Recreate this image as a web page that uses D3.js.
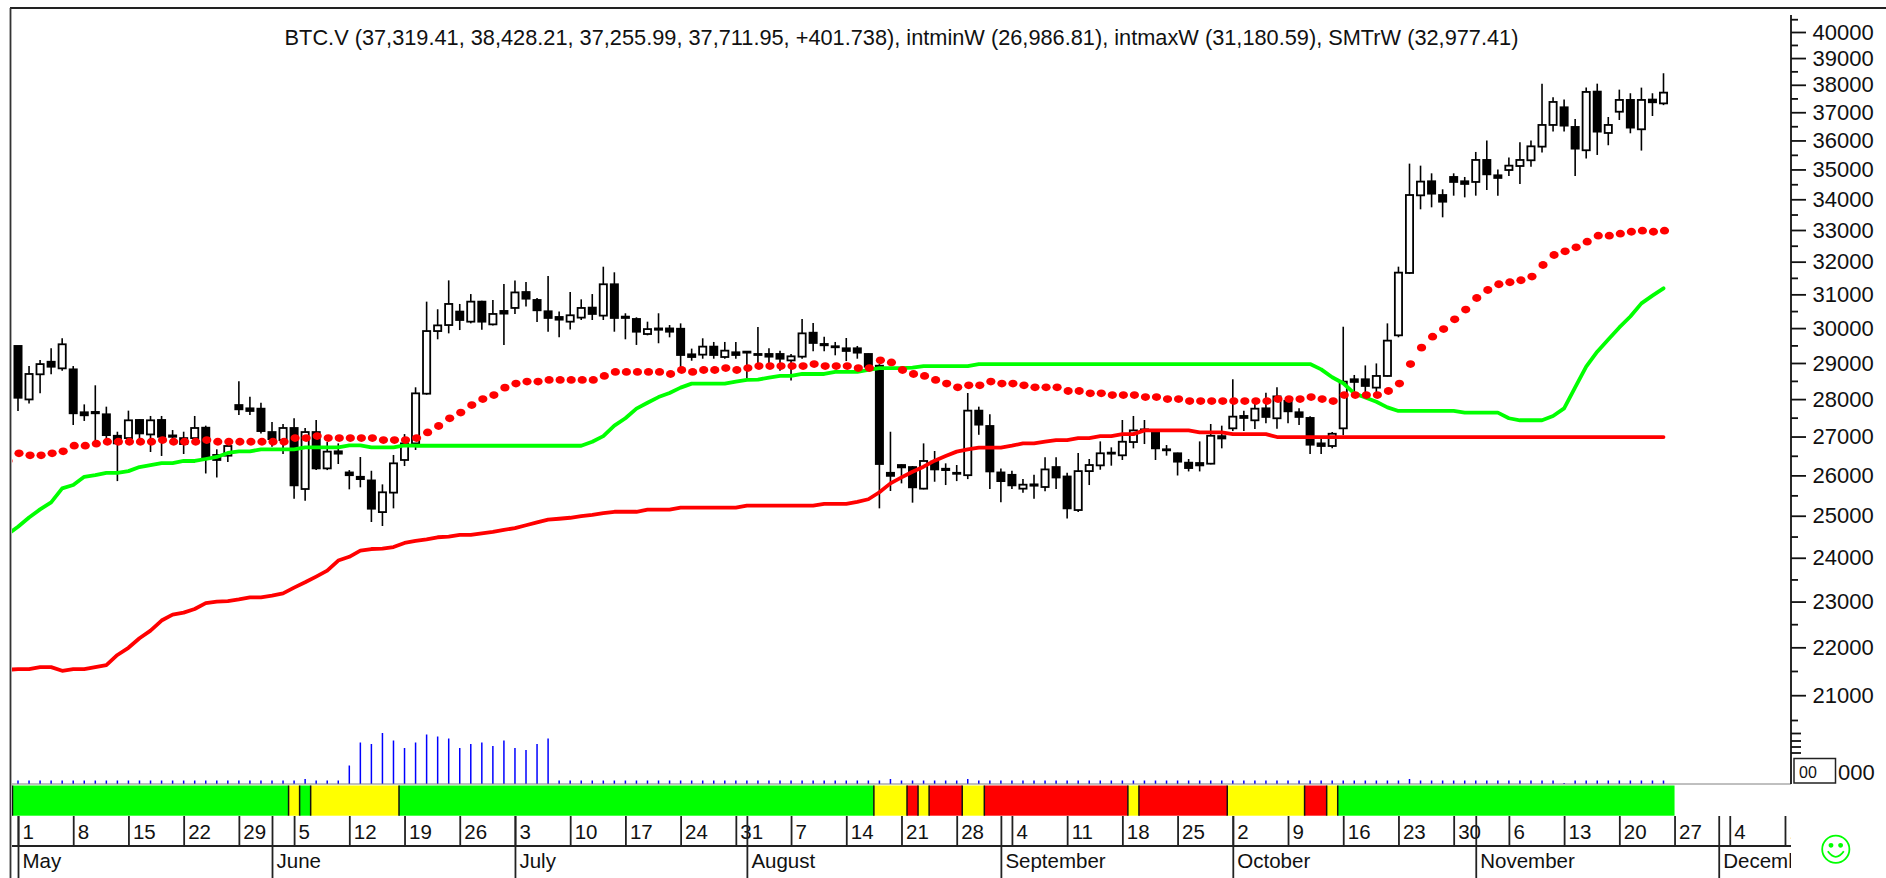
<!DOCTYPE html>
<html>
<head>
  <meta charset="utf-8">
  <title>BTC.V</title>
  <script src="https://d3js.org/d3.v7.min.js"></script>
  <style>
    html, body { margin: 0; padding: 0; background: #fff; }
    svg { display: block; font-family: "Liberation Sans", Arial, sans-serif; }
    .price-axis text, .osc-axis text { font-size: 22px; fill: #111; }
    .price-axis line, .osc-axis line, .price-axis path, .osc-axis path { stroke: #111; stroke-width: 1.8; }
    .week-axis line, .month-axis line { stroke: #222; stroke-width: 1.8; }
    .week-axis text, .month-axis text { font-size: 20.5px; fill: #111; text-anchor: start; }
  </style>
</head>
<body>
<svg id="chart" width="1886" height="878"></svg>
<script>
// candles, one per weekday from May 1 on
const opens = [
  29484,27991,28683,29035,28849,28821,27644,27653,27590,27020,
  26959,27438,27055,27438,27029,26959,26959,27233,26521,26503,
  27839,27750,27741,27118,26907,27225,25658,27118,26177,26615,
  26074,25964,25873,25089,25568,26392,26821,28148,29914,30089,
  30485,30188,30781,30109,30504,30593,31070,30831,30494,30326,
  30188,30307,30603,30366,31305,30336,30267,29828,29990,29990,
  29981,29245,29236,29465,29169,29303,29322,29255,29255,29255,
  29073,29179,29866,29541,29475,29417,29417,29255,28923,26065,
  26263,26211,25667,26349,26168,26065,26005,27688,27278,26074,
  26014,25667,25774,25708,26211,25972,25139,26108,26254,26581,
  26512,26856,27189,27118,26667,26564,26323,26314,26297,27011,
  27216,27545,27429,27750,27483,27955,27644,27492,26821,26753,
  27216,28545,28545,28314,28637,29790,31651,34130,34600,34141,
  34745,34600,34577,35324,34801,34980,35117,35313,35784,36546,
  37178,36475,35658,37749,36262,37019,37445,36392,37458,37319.41];
const highs = [
  29484,28914,29083,29417,29704,28914,27857,28378,27795,27127,
  27688,27460,27545,27545,27171,27127,27545,27287,26667,26778,
  28489,28065,27902,27385,27331,27483,27225,27438,26856,26821,
  26134,26469,26117,25774,26521,27064,28323,30781,30554,31424,
  30712,31009,30810,30831,31315,31417,31376,30890,31559,30485,
  31070,30850,31009,31844,31671,30435,30316,30188,30435,30089,
  30138,29408,29704,29599,29599,29599,29341,30030,29417,29350,
  29255,30267,30148,29752,29599,29713,29484,29270,28968,27126,
  26280,26237,26821,26624,26306,26263,28166,27795,27590,26177,
  26117,25906,26014,26460,26460,26065,26572,26417,26873,26718,
  27438,27545,27438,27171,26778,26581,26417,26873,27331,27287,
  28545,27688,27991,28175,28323,28046,27750,27536,26950,27118,
  30040,28665,28932,28988,30138,31845,35198,35129,34868,34331,
  34868,34745,35600,36002,35002,35404,35933,36002,38042,37543,
  37458,36759,37896,38042,36830,37822,37689,37896,37689,38428.21];
const lows = [
  27679,27884,28157,28683,28785,27305,27412,26890,26950,25856,
  26778,26950,26598,26495,26907,26546,26821,26048,25947,26340,
  27572,27572,27082,26735,26546,25418,25370,26134,26134,26289,
  25650,25700,24848,24752,25180,26237,26650,28120,29675,29847,
  29943,30138,29952,30079,29513,30415,30633,30178,29895,29732,
  29962,30237,30237,30237,29895,29675,29513,29790,29561,29732,
  28803,29064,29121,29121,29121,29121,28581,28895,28895,28785,
  28508,29121,29331,29331,29217,29054,29121,28870,25180,25609,
  25799,25320,25650,25840,25757,25856,25906,27046,25658,25328,
  25658,25568,25418,25600,25658,24935,25089,25757,26143,26246,
  26392,26692,26804,26392,26503,25997,26100,26100,26280,26692,
  27144,27144,27198,27349,27207,27349,27305,26546,26546,26692,
  27037,28157,28065,28065,28620,29733,31620,33670,33735,33409,
  34119,34063,34119,34309,34119,34779,34510,35094,35577,36310,
  36310,34779,35370,35496,35832,36723,36251,35647,36866,37255.99];
const closes = [
  28037,28692,28969,28895,29532,27617,27563,27617,27037,26821,
  27429,27082,27429,26993,26993,26804,27225,26452,26392,26753,
  27724,27679,27144,26933,27225,25749,27118,26177,26607,26555,
  26005,25906,25172,25576,26306,26821,28157,29914,30079,30712,
  30237,30781,30188,30415,30425,31058,30870,30524,30297,30247,
  30376,30593,30415,31305,30297,30297,29895,29971,29952,29895,
  29226,29169,29465,29226,29350,29226,29293,29226,29179,29121,
  29188,29847,29570,29503,29446,29341,29293,28895,26289,25988,
  26203,25700,26366,26151,26134,26040,27688,27314,26100,25856,
  25749,25766,25741,26151,25947,25180,26108,26263,26564,26555,
  26864,27162,27153,26692,26641,26349,26186,26254,27020,26950,
  27527,27492,27741,27519,28074,27670,27519,26787,26753,27073,
  28480,28471,28360,28637,29637,31661,34141,34589,34186,33920,
  34577,34510,35324,34834,34712,35129,35324,35795,36546,37372,
  36522,35715,37737,36310,36546,37445,36452,37445,37360,37711.95];

// indicators start one bar before the first candle (clipped by the frame)
const intminW = [21525,
  21539,21539,21580,21580,21504,21539,21539,21580,21622,21837,
  21990,22194,22361,22580,22711,22755,22835,22966,23000,23009,
  23048,23093,23093,23131,23184,23314,23435,23565,23702,23935,
  24022,24165,24205,24213,24252,24348,24395,24435,24483,24499,
  24538,24538,24578,24610,24660,24700,24770,24840,24904,24927,
  24951,24991,25023,25064,25097,25097,25097,25147,25147,25147,
  25196,25196,25196,25196,25196,25196,25246,25246,25246,25246,
  25246,25246,25246,25288,25288,25288,25337,25404,25577,25799,
  25948,26091,26220,26375,26495,26607,26667,26710,26710,26710,
  26761,26821,26821,26864,26907,26907,26959,26959,27011,27011,
  27064,27064,27162,27162,27162,27162,27162,27109,27109,27109,
  27064,27064,27064,27064,26987,26987,26987,26987,26987,26987,
  26987,26987,26987,26987,26987,26987,26987,26987,26987,26987,
  26987,26987,26987,26987,26987,26987,26987,26987,26987,26987,
  26987,26987,26987,26987,26987,26987,26987,26987,26987,26986.81];
const intmaxW = [24538,
  24736,24959,25155,25328,25675,25757,25964,26005,26065,26065,
  26108,26211,26263,26314,26314,26366,26366,26417,26469,26572,
  26615,26615,26667,26667,26667,26667,26718,26718,26718,26718,
  26770,26770,26718,26718,26718,26770,26760,26760,26760,26760,
  26760,26760,26760,26760,26760,26760,26760,26760,26760,26760,
  26760,26760,26864,27011,27287,27484,27742,27902,28055,28166,
  28314,28425,28425,28425,28425,28480,28526,28535,28591,28637,
  28637,28692,28692,28692,28748,28748,28748,28803,28858,28858,
  28858,28868,28914,28914,28914,28914,28914,28969,28969,28969,
  28969,28969,28969,28969,28969,28969,28969,28969,28969,28969,
  28969,28969,28969,28969,28969,28969,28969,28969,28969,28969,
  28969,28969,28969,28969,28969,28969,28969,28969,28821,28600,
  28434,28157,28046,27928,27777,27679,27679,27679,27679,27679,
  27679,27634,27634,27634,27634,27484,27430,27430,27430,27545,
  27750,28324,28895,29320,29670,30020,30340,30730,30960,31180.59];
const SMTrW = [26366,
  26564,26512,26512,26564,26615,26761,26761,26813,26864,26864,
  26864,26864,26864,26907,26864,26864,26864,26907,26864,26864,
  26864,26864,26864,26864,26864,26959,26959,27011,26959,26959,
  26959,26959,26959,26907,26907,26907,26959,27107,27278,27483,
  27635,27839,28000,28111,28314,28425,28480,28480,28526,28526,
  28526,28526,28526,28637,28748,28748,28748,28748,28748,28692,
  28803,28748,28803,28803,28858,28803,28858,28914,28914,28914,
  28914,28914,28969,28914,28914,28914,28858,28858,29074,29016,
  28803,28692,28637,28526,28425,28323,28378,28378,28480,28425,
  28425,28378,28323,28323,28323,28221,28221,28157,28157,28111,
  28111,28111,28055,28055,28000,28000,27946,27946,27946,27946,
  27946,27946,27946,27946,28000,28000,28000,28055,28000,27946,
  28111,28111,28111,28111,28221,28425,28969,29436,29752,29972,
  30257,30544,30890,31131,31305,31366,31427,31539,31896,32208,
  32324,32450,32629,32818,32818,32881,32944,32977,32944,32977.41];

// lower panel
const oscValues = [
  7,7,7,7,7,7,7,7,7,7,
  7,7,7,7,7,7,7,7,7,7,
  7,7,7,7,7,7,10,7,7,7,
  37,83,80,102,87,72,83,99,95,91,
  72,80,83,76,87,72,68,80,91,7,
  7,7,7,7,7,7,7,7,7,7,
  7,7,7,7,7,7,7,7,7,7,
  7,7,7,7,7,7,7,7,7,10,
  7,7,7,7,7,7,10,7,7,7,
  7,7,7,7,7,7,7,7,7,7,
  7,7,7,7,7,7,7,7,7,7,
  7,7,7,7,7,7,7,7,7,7,
  7,7,7,7,7,7,10,7,7,7,
  7,7,7,7,7,7,7,7,7,7,
  2,7,7,7,7,7,7,7,7,7];
const statusKinds = ["g","y","g","y","g","y","r","y","r","y","r","y","r","y","r","y","g"];
const statusEnds = [25.5,26.5,27.5,35.5,78.5,81.5,82.5,83.5,86.5,88.5,101.5,102.5,110.5,117.5,119.5,120.5,151];
const statusStart = 0.5;

// axes
const priceTicks = [40000,39000,38000,37000,36000,35000,34000,33000,32000,31000,30000,29000,28000,27000,26000,25000,24000,23000,22000,21000];
const priceMinor = [40500,39500,38500,37500,36500,35500,34500,33500,32500,31500,30500,29500,28500,27500,26500,25500,24500,23500,22500,21500,20500];
const oscTicks = [102,87,75,63];
const weekLabels = ["1","8","15","22","29","5","12","19","26","3","10","17","24","31","7","14","21","28","4","11","18","25","2","9","16","23","30","6","13","20","27","4","11"];
const monthLabels = ["May","June","July","August","September","October","November","December"];
const monthBars = [1,24,46,67,90,111,133,155];

const title = "BTC.V (37,319.41, 38,428.21, 37,255.99, 37,711.95, +401.738), intminW (26,986.81), intmaxW (31,180.59), SMTrW (32,977.41)";

const statusColor = { g: "#00ff00", y: "#ffff00", r: "#ff0000" };
const frame = { left: 12, right: 1791, top: 8, bottom: 878 };

const svg = d3.select("#chart");

const x = d3.scaleLinear().domain([1, 150]).range([18, 1663.5]);
const y = d3.scaleLog().domain([21000, 40000]).range([695.2, 32]);
const osc = d3.scaleLinear().domain([0, 100]).range([784, 734]);

svg.append("defs").append("clipPath").attr("id", "plot")
  .append("rect")
  .attr("x", frame.left)
  .attr("y", frame.top)
  .attr("width", frame.right - frame.left)
  .attr("height", frame.bottom - frame.top);

// frame
svg.append("line").attr("x1", 10).attr("x2", 1886).attr("y1", 8).attr("y2", 8)
  .attr("stroke", "#222").attr("stroke-width", 2.2);
svg.append("line").attr("x1", 10.5).attr("x2", 10.5).attr("y1", 8).attr("y2", 878)
  .attr("stroke", "#333").attr("stroke-width", 1.8);

svg.append("text")
  .attr("x", 901.5)
  .attr("y", 45)
  .attr("text-anchor", "middle")
  .attr("font-size", 21.75)
  .attr("fill", "#111")
  .text(title);

const plot = svg.append("g").attr("clip-path", "url(#plot)");

// candles
const candles = closes.map((c, i) => ({ i: i + 1, o: opens[i], h: highs[i], l: lows[i], c: c }));
const candle = plot.selectAll(".candle")
  .data(candles)
  .join("g")
  .attr("class", "candle");

candle.append("line")
  .attr("x1", d => x(d.i))
  .attr("x2", d => x(d.i))
  .attr("y1", d => y(d.h))
  .attr("y2", d => y(d.l))
  .attr("stroke", "#000")
  .attr("stroke-width", 1.6);

candle.append("rect")
  .attr("x", d => x(d.i) - 3.6)
  .attr("width", 7.2)
  .attr("y", d => y(Math.max(d.o, d.c)))
  .attr("height", d => Math.abs(y(d.o) - y(d.c)))
  .attr("fill", d => d.c > d.o ? "#fff" : "#000")
  .attr("stroke", "#000")
  .attr("stroke-width", 1.8);

// indicator lines
function drawLine(values, color) {
  plot.append("path")
    .datum(values)
    .attr("fill", "none")
    .attr("stroke", color)
    .attr("stroke-width", 3.8)
    .attr("stroke-linejoin", "round")
    .attr("stroke-linecap", "round")
    .attr("d", d3.line().x((d, i) => x(i)).y(d => y(d)));
}
drawLine(intminW, "#ff0000");
drawLine(intmaxW, "#00ff00");

plot.selectAll(".smt")
  .data(SMTrW)
  .join("ellipse")
  .attr("class", "smt")
  .attr("cx", (d, i) => x(i) + 1)
  .attr("cy", d => y(d))
  .attr("rx", 4.6)
  .attr("ry", 3.9)
  .attr("fill", "#ff0000");

// lower panel, blue bars and status band
svg.append("line").attr("x1", frame.left).attr("x2", frame.right).attr("y1", 784).attr("y2", 784)
  .attr("stroke", "#808080").attr("stroke-width", 1);

plot.selectAll(".osc")
  .data(oscValues)
  .join("line")
  .attr("class", "osc")
  .attr("x1", (d, i) => x(i + 1))
  .attr("x2", (d, i) => x(i + 1))
  .attr("y1", osc(0))
  .attr("y2", d => osc(d))
  .attr("stroke", "#0000ff")
  .attr("stroke-width", 1.5);

const blocks = statusKinds.map((k, i) => ({ k: k, from: i ? statusEnds[i - 1] : statusStart, to: statusEnds[i] }));
plot.selectAll(".status")
  .data(blocks)
  .join("rect")
  .attr("class", "status")
  .attr("x", d => x(d.from))
  .attr("width", d => x(d.to) - x(d.from))
  .attr("y", 785.5)
  .attr("height", 30.2)
  .attr("fill", d => statusColor[d.k]);
plot.selectAll(".status-sep")
  .data(blocks)
  .join("line")
  .attr("class", "status-sep")
  .attr("x1", d => x(d.from))
  .attr("x2", d => x(d.from))
  .attr("y1", 785.5)
  .attr("y2", 815.7)
  .attr("stroke", "#111")
  .attr("stroke-width", 1.5);

// date rows
const dateRows = svg.append("g").attr("clip-path", "url(#plot)");

const weekAxis = d3.axisBottom(x)
  .tickValues(weekLabels.map((d, i) => 1 + 5 * i))
  .tickFormat((d, i) => weekLabels[i])
  .tickSize(30);
const weekG = dateRows.append("g")
  .attr("class", "week-axis")
  .attr("transform", "translate(0,816)")
  .call(weekAxis);
weekG.select(".domain").remove();
weekG.selectAll("text").attr("x", 4).attr("y", 22.5).attr("dy", 0);

const monthAxis = d3.axisBottom(x)
  .tickValues(monthBars)
  .tickFormat((d, i) => monthLabels[i])
  .tickSize(62);
const monthG = dateRows.append("g")
  .attr("class", "month-axis")
  .attr("transform", "translate(0,816)")
  .call(monthAxis);
monthG.select(".domain").remove();
monthG.selectAll("text").attr("x", 4).attr("y", 52).attr("dy", 0);

svg.append("line").attr("x1", frame.left).attr("x2", frame.right).attr("y1", 846).attr("y2", 846)
  .attr("stroke", "#222").attr("stroke-width", 2);

// price axis on the right
const rightX = frame.right;
const minorG = svg.append("g")
  .attr("class", "price-axis")
  .attr("transform", "translate(" + rightX + ",0)")
  .call(d3.axisRight(y).tickValues(priceMinor).tickSize(7).tickFormat(""));
minorG.select(".domain").remove();

const majorG = svg.append("g")
  .attr("class", "price-axis")
  .attr("transform", "translate(" + rightX + ",0)")
  .call(d3.axisRight(y).tickValues(priceTicks).tickSize(15).tickPadding(6.5).tickFormat(d => String(d)));
majorG.select(".domain").remove();

const oscG = svg.append("g")
  .attr("class", "osc-axis")
  .attr("transform", "translate(" + rightX + ",0)")
  .call(d3.axisRight(osc).tickValues(oscTicks).tickSize(10).tickFormat(""));
oscG.select(".domain").remove();

svg.append("line").attr("x1", rightX).attr("x2", rightX).attr("y1", 15).attr("y2", 784)
  .attr("stroke", "#111").attr("stroke-width", 1.8);

// value box and partly hidden label
svg.append("text").attr("x", 1838).attr("y", 780).attr("font-size", 22).attr("fill", "#111").text("000");
svg.append("rect").attr("x", 1794).attr("y", 758.5).attr("width", 41.5).attr("height", 24.5)
  .attr("fill", "#fff").attr("stroke", "#222").attr("stroke-width", 1.5);
svg.append("text").attr("x", 1799).attr("y", 777.5).attr("font-size", 16).attr("fill", "#111").text("00");

// smiley
const smile = svg.append("g").attr("transform", "translate(1835.8,849.3)")
  .attr("fill", "none").attr("stroke", "#00ff00").attr("stroke-width", 1.8);
smile.append("circle").attr("r", 13.6);
smile.append("circle").attr("cx", -4.8).attr("cy", -4).attr("r", 1.5).attr("fill", "#00ff00");
smile.append("circle").attr("cx", 4.8).attr("cy", -4).attr("r", 1.5).attr("fill", "#00ff00");
smile.append("path").attr("d", "M-8,2 Q0,13 8,2");
</script>
</body>
</html>
